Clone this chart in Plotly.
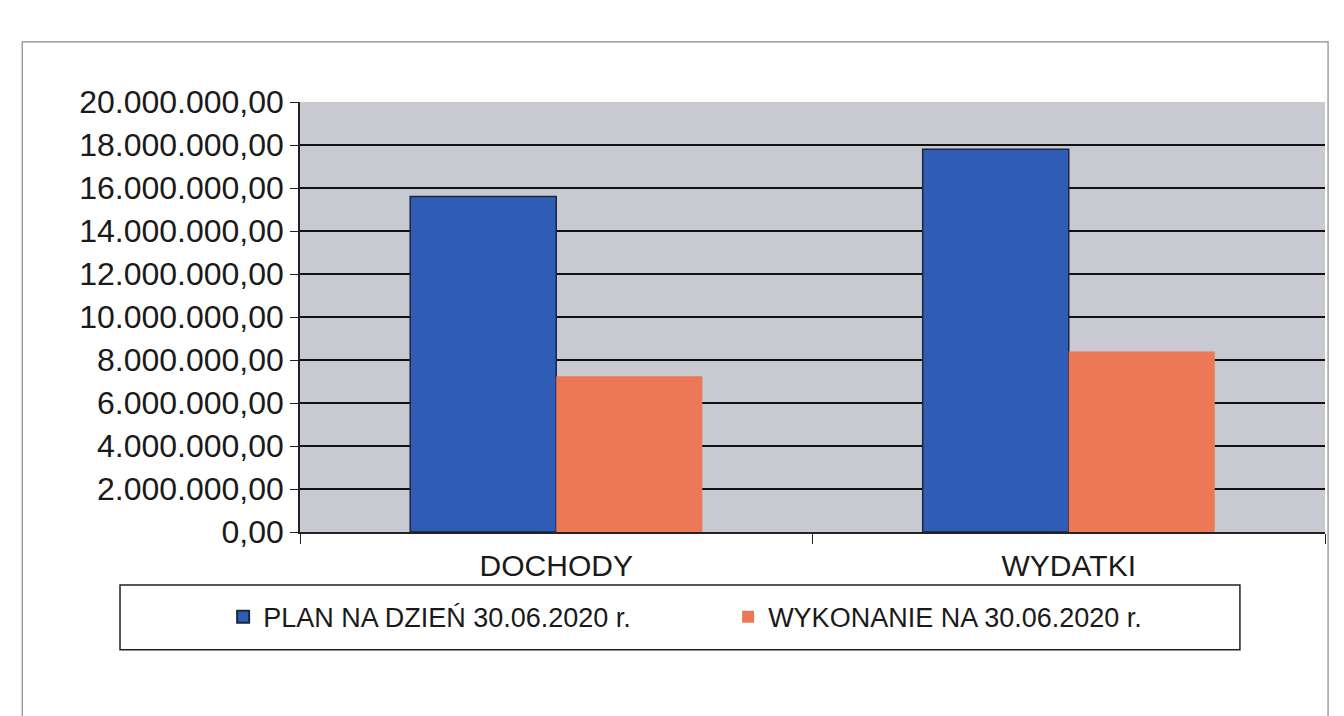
import plotly.graph_objects as go

categories = ["DOCHODY", "WYDATKI"]
plan = [15600000, 17800000]
wykonanie = [7250000, 8400000]
tick_vals = [0, 2e6, 4e6, 6e6, 8e6, 10e6, 12e6, 14e6, 16e6, 18e6, 20e6]


def pl_format(v):
    # polish style: dots for thousands, comma for decimals
    s = f"{v:,.2f}"
    return s.replace(",", " ").replace(".", ",").replace(" ", ".")


tick_text = [pl_format(v) for v in tick_vals]

fig = go.Figure()
fig.add_trace(go.Bar(x=categories, y=plan, name="PLAN NA DZIEŃ 30.06.2020 r.",
                     marker=dict(color="#2F5DB5", line=dict(color="#1a2740", width=1.5))))
fig.add_trace(go.Bar(x=categories, y=wykonanie, name="WYKONANIE NA 30.06.2020 r.",
                     marker=dict(color="#EC7857", line=dict(width=0))))

font = "Liberation Sans, Arial, sans-serif"

fig.update_layout(
    width=1344, height=716,
    margin=dict(l=292, r=27, t=94, b=192),
    paper_bgcolor="white",
    plot_bgcolor="#C8C9D1",
    barmode="group",
    bargap=0.43,
    bargroupgap=0,
    font=dict(family=font, color="#1a1a1a"),
    showlegend=True,
    legend=dict(orientation="h", x=-0.075, y=-0.198, xanchor="left", yanchor="middle",
                entrywidth=460, entrywidthmode="pixels", bgcolor="rgba(0,0,0,0)",
                font=dict(size=27, family=font), itemsizing="constant"),
    shapes=[
        # outer chart border
        dict(type="rect", xref="paper", yref="paper", x0=-0.271, x1=1.003, y0=-0.43, y1=1.14,
             line=dict(color="#8a8a8a", width=1.2)),
        # legend box
        dict(type="rect", xref="paper", yref="paper", x0=-0.1756, x1=0.917, y0=-0.274, y1=-0.123,
             line=dict(color="#222", width=1.5)),
    ],
)

fig.update_yaxes(range=[0, 20e6], tickvals=tick_vals, ticktext=tick_text,
                 showgrid=True, gridcolor="#111", gridwidth=1.5,
                 showline=True, linecolor="#222", linewidth=1.5,
                 ticks="outside", ticklen=8, tickcolor="#222",
                 tickfont=dict(size=32, family=font, color="#1a1a1a"), zeroline=False)
fig.update_xaxes(showline=True, linecolor="#222", linewidth=1.5,
                 ticks="outside", tickson="boundaries", ticklen=10, tickcolor="#222",
                 ticklabelstandoff=6,
                 tickfont=dict(size=30, family=font, color="#1a1a1a"))

fig.write_html("out.html")
